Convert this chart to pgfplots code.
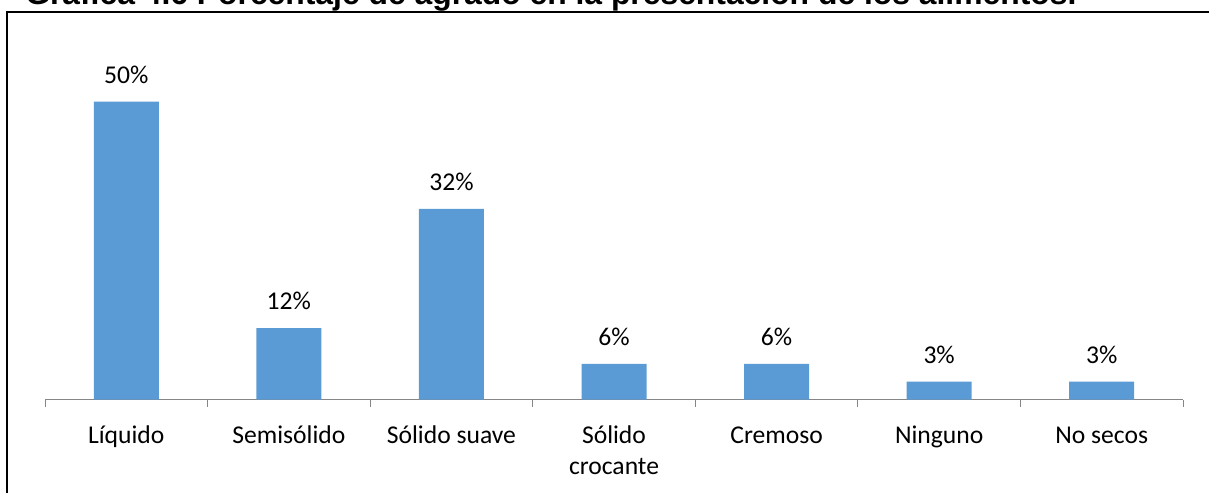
\documentclass[border=0pt]{standalone}
\usepackage{pgfplots}
\pgfplotsset{compat=1.18}
\usepackage{fontspec}
\usepackage{graphicx}
\setmainfont{Carlito}
\newfontfamily\titlefont{Liberation Sans}
\definecolor{barblue}{HTML}{5B9BD5}
\definecolor{axgray}{HTML}{868686}
\begin{document}
\begin{tikzpicture}
\useasboundingbox (0,0) rectangle (906.75pt,369.75pt);
\clip (0,0) rectangle (906.75pt,369.75pt);
\begin{scope}[x=0.75pt,y=0.75pt]
\node[anchor=base west, inner sep=0] at (25,488) {\resizebox{788.25pt}{!}{\titlefont\bfseries Gráfica 4.6 Porcentaje de agrado en la presentación de los alimentos.}};
\draw[line width=1.5pt] (7,0) -- (7,481.2) -- (1215,481.2);
\end{scope}
\begin{axis}[
  at={(33.75pt,70.125pt)}, anchor=south west,
  scale only axis, width=853.5pt, height=245.7pt,
  xmin=-0.5, xmax=6.5, ymin=0, ymax=55, enlargelimits=false,
  /pgf/number format/assume math mode=true,
  axis y line=none, axis x line*=bottom,
  x axis line style={axgray, line width=0.75pt, -},
  xtick={0,1,2,3,4,5,6},
  xticklabels={Líquido,Semisólido,Sólido suave,{\begin{tabular}[t]{@{}c@{}}Sólido\\crocante\end{tabular}},Cremoso,Ninguno,No secos},
  major tick length=0pt,
  minor xtick={-0.5,0.5,1.5,2.5,3.5,4.5,5.5,6.5},
  minor tick length=5.25pt,
  tick align=outside,
  minor tick style={axgray, line width=0.75pt},
  xticklabel style={font=\fontsize{19.2}{23.5}\selectfont, anchor=base, yshift=-33pt, inner sep=0pt},
  ybar, bar width=48.75pt,
  nodes near coords={\pgfmathprintnumber[assume math mode=true]{\pgfplotspointmeta}\%},
  every node near coord/.append style={font=\fontsize{19.2}{23.5}\selectfont, anchor=base, yshift=13.8pt, inner sep=0pt, black},
  clip=false,
]
\addplot[fill=barblue, draw=none] coordinates {(0,50) (1,12) (2,32) (3,6) (4,6) (5,3) (6,3)};
\end{axis}
\end{tikzpicture}
\end{document}
